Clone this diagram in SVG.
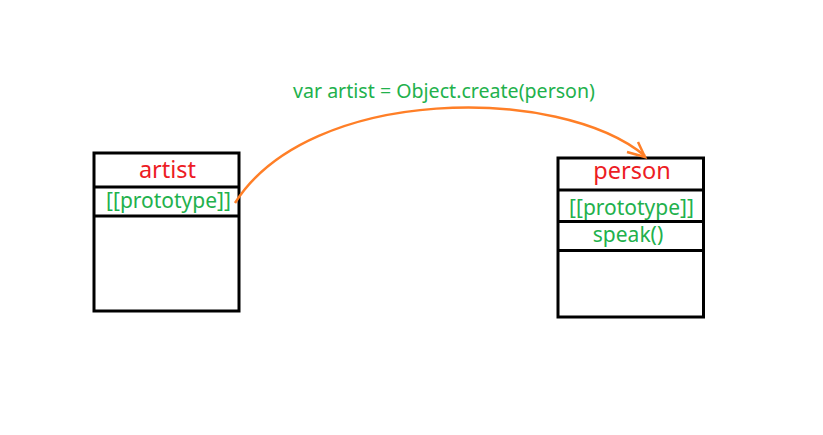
<svg xmlns="http://www.w3.org/2000/svg" width="823" height="435" viewBox="0 0 823 435">
<style>
.box{fill:#fff;stroke:#000;stroke-width:3}
.div{stroke:#000;stroke-width:3}
.title{font-family:"Noto Sans","DejaVu Sans",sans-serif;font-size:23.5px;fill:#ed1c24;text-anchor:middle}
.field{font-family:"Noto Sans","DejaVu Sans",sans-serif;font-size:21px;fill:#22b14c;text-anchor:middle}
.label{font-family:"Noto Sans","DejaVu Sans",sans-serif;font-size:19.6px;fill:#22b14c}
.conn{fill:none;stroke:#ff7f27;stroke-width:2.5}
</style>
<rect width="823" height="435" fill="#fff"/>
<g id="artist">
<rect class="box" x="94" y="153" width="145" height="158"/>
<line class="div" x1="94" y1="187" x2="239" y2="187"/>
<line class="div" x1="94" y1="216" x2="239" y2="216"/>
<text class="title" x="167.5" y="178">artist</text>
<text class="field" x="168.5" y="208">[[prototype]]</text>
</g>
<g id="person">
<rect class="box" x="558" y="158" width="145.5" height="159"/>
<line class="div" x1="558" y1="190" x2="703.5" y2="190"/>
<line class="div" x1="558" y1="221.5" x2="703.5" y2="221.5"/>
<line class="div" x1="558" y1="250.5" x2="703.5" y2="250.5"/>
<text class="title" x="632" y="179">person</text>
<text class="field" x="631.5" y="215">[[prototype]]</text>
<text class="field" x="628" y="242">speak()</text>
</g>
<g id="connectors">
<path class="conn" d="M235,203 C310,85 560,85 645,156"/>
<path class="conn" d="M627,152 L645,157 L638,142"/>
<text class="label" x="293" y="98">var artist = Object.create(person)</text>
</g>
</svg>
